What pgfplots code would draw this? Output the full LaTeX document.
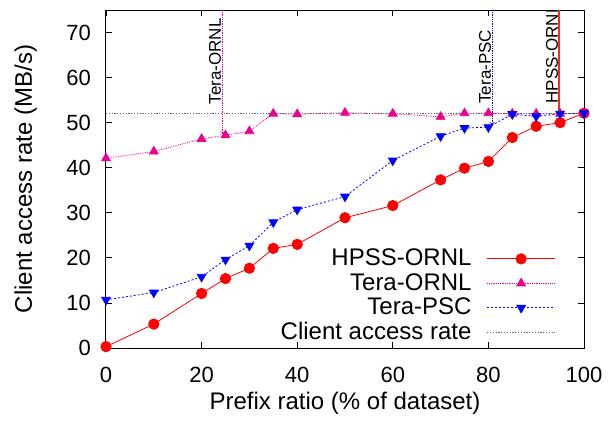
\documentclass[border=0pt]{standalone}
\usepackage{fontspec}
\setmainfont{Liberation Sans}
\usepackage{pgfplots}
\pgfplotsset{compat=1.18}
\definecolor{refgray}{RGB}{100,100,100}
\newcommand{\fs}{\fontsize{24bp}{28bp}\selectfont}
\newcommand{\ft}{\fontsize{22bp}{26bp}\selectfont}
\newcommand{\fr}{\fontsize{17bp}{20bp}\selectfont}
\begin{document}
\begin{tikzpicture}
\begin{axis}[
  name=main,
  width=478bp, height=338bp, scale only axis,
  xmin=0, xmax=100, ymin=0, ymax=75,
  xtick={0,20,...,100}, ytick={0,10,...,70},
  tick align=inside, major tick length=6bp,
  axis line style={line width=1bp},
  every tick/.style={black, line width=0.8bp},
  /pgf/number format/assume math mode=true,
  tick label style={font=\ft},
  xticklabel style={inner sep=0pt, anchor=north, yshift=-19bp},
  yticklabel style={inner sep=0pt, anchor=east, xshift=-15bp},
  label style={font=\fs},
  xlabel={Prefix ratio (\% of dataset)},
  ylabel={Client access rate (MB/s)},
  xlabel style={at={(axis description cs:0.5,-0.183)}, anchor=base},
  ylabel style={at={(axis description cs:-0.155,0.5)}, anchor=base},
  legend plot pos=right,
  legend cell align=right,
  legend style={draw=none, fill=none, font=\fs, inner sep=0pt, outer sep=0pt,
    at={(axis description cs:0.941,0.010)}, anchor=south east,
    row sep=0bp, column sep=13bp,
    nodes={inner sep=2bp, text height=17bp, text depth=3.5bp}},
  legend image code/.code={\draw[mark repeat=2,mark phase=2,#1] plot coordinates {(0bp,0bp)(34bp,0bp)(68bp,0bp)};},
]
\addplot[red, line width=0.8bp, mark=*, mark size=5.2bp, mark options={solid}]
  coordinates {(0,0.3) (10,5.3) (20,12.1) (25,15.4) (30,17.7) (35,22.1) (40,23.0)
  (50,28.9) (60,31.6) (70,37.3) (75,39.9) (80,41.4) (85,46.7) (90,49.2) (95,50.0) (100,52.1)};
\addlegendentry{HPSS-ORNL}
\addplot[magenta, line width=0.8bp, densely dotted, mark=triangle*, mark size=5bp, mark options={solid}]
  coordinates {(0,42.1) (10,43.6) (20,46.4) (25,47.2) (30,48.1) (35,52.0) (40,51.9)
  (50,52.2) (60,52.0) (70,51.3) (75,52.1) (80,52.1) (85,52.0) (90,52.0) (95,52.0) (100,52.1)};
\addlegendentry{Tera-ORNL}
\addplot[blue, line width=0.8bp, dash pattern=on 2bp off 2bp, mark=triangle*, mark size=5bp, mark options={solid, rotate=180}]
  coordinates {(0,10.7) (10,12.3) (20,15.8) (25,19.6) (30,22.7) (35,27.9) (40,30.7)
  (50,33.6) (60,41.6) (70,47.0) (75,48.8) (80,49.0) (85,51.9) (90,51.4) (95,52.0) (100,52.1)};
\addlegendentry{Tera-PSC}
\addplot[refgray, line width=1.3bp, dash pattern=on 1.3bp off 1.5bp]
  coordinates {(0,52.1) (100,52.1)};
\addlegendentry{Client access rate}
\addplot[magenta, line width=0.8bp, densely dotted, ->, forget plot]
  coordinates {(24.4,75) (24.4,47.5)};
\addplot[blue, line width=0.8bp, densely dotted, ->, forget plot]
  coordinates {(80.8,75) (80.8,49.5)};
\addplot[red!85!white, line width=1.3bp, ->, forget plot]
  coordinates {(94.8,75) (94.8,51.5)};
\node[rotate=90, anchor=west, inner sep=0pt, font=\fr] at (axis cs:22.8,54.0) {Tera-ORNL};
\node[rotate=90, anchor=west, inner sep=0pt, font=\fr] at (axis cs:79.3,54.2) {Tera-PSC};
\node[rotate=90, anchor=west, inner sep=0pt, font=\fr] at (axis cs:93.3,54.2) {HPSS-ORNL};
\end{axis}
\pgfresetboundingbox
\path[use as bounding box] (main.south west) ++(-106bp,-75bp) rectangle ++(609bp,423bp);
\end{tikzpicture}
\end{document}
